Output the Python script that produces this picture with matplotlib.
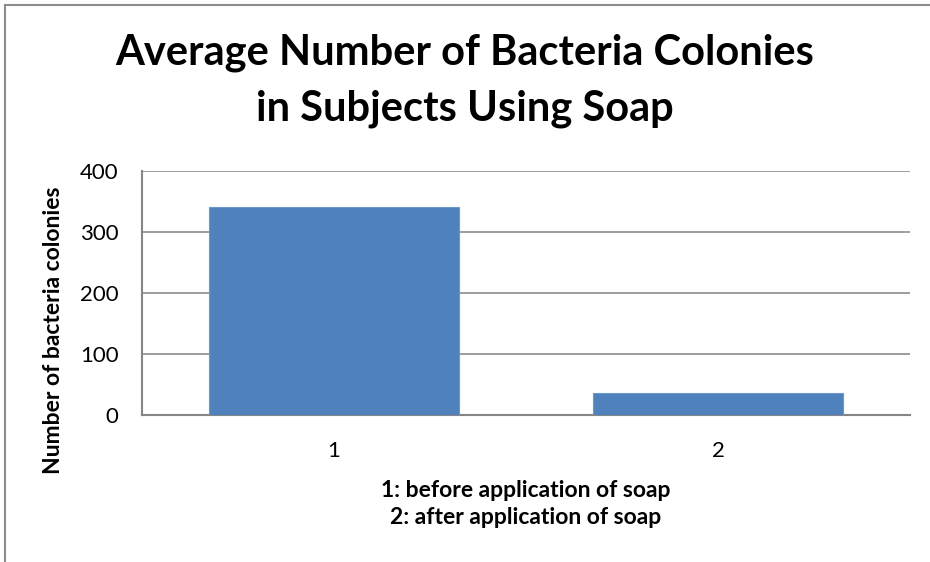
import matplotlib.pyplot as plt
from matplotlib.lines import Line2D

categories = ["1", "2"]
colonies = [341, 36]
yticks = [0, 100, 200, 300, 400]
title_lines = ["Average Number of Bacteria Colonies", "in Subjects Using Soap"]

plt.rcParams['font.family'] = ['Lato', 'DejaVu Sans']

fig = plt.figure(figsize=(9.3, 5.62), dpi=100)
ax = fig.add_axes([0.1527, 0.2616, 0.8258, 0.4341])

x = range(len(categories))
ax.bar(x, colonies, width=0.65, color='#4F81BD', edgecolor='#6C96CC', linewidth=0.8, zorder=3)
ax.set_xlim(-0.5, 1.5)
ax.set_ylim(0, 400)
ax.set_xticks(list(x))
ax.set_xticklabels(categories, fontsize=16)
ax.set_yticks(yticks)
ax.set_yticklabels([str(v) for v in yticks], fontsize=16)
ax.tick_params(axis='x', length=0, pad=19)
ax.tick_params(axis='y', length=0, pad=17)
ax.grid(axis='y', color='#8C8C8C', linewidth=1.2, zorder=0)
for s in ['top', 'right']:
    ax.spines[s].set_visible(False)
for s in ['left', 'bottom']:
    ax.spines[s].set_color('#868686')
    ax.spines[s].set_linewidth(1.5)

ax.set_ylabel("Number of bacteria colonies", fontsize=16.5, fontweight='bold', va='center')
ax.yaxis.set_label_coords(0.058, 0.413, transform=fig.transFigure)
ax.set_xlabel("1: before application of soap\n2: after application of soap",
              fontsize=16.5, fontweight='bold', va='center', linespacing=1.3)
ax.xaxis.set_label_coords(0.565, 1 - 504 / 562, transform=fig.transFigure)

fig.text(0.5, 1 - 65 / 562, title_lines[0], ha='center', va='baseline',
         fontsize=30, fontweight='bold')
fig.text(0.5, 1 - 121 / 562, title_lines[1], ha='center', va='baseline',
         fontsize=30, fontweight='bold')

# chart area border (top and left visible)
fig.add_artist(Line2D([0.0054, 0.0054], [0, 0.991], color='#8C8C8C', linewidth=1.5))
fig.add_artist(Line2D([0.0054, 1], [0.991, 0.991], color='#8C8C8C', linewidth=1.5))

fig.savefig("out.png", dpi=100)
